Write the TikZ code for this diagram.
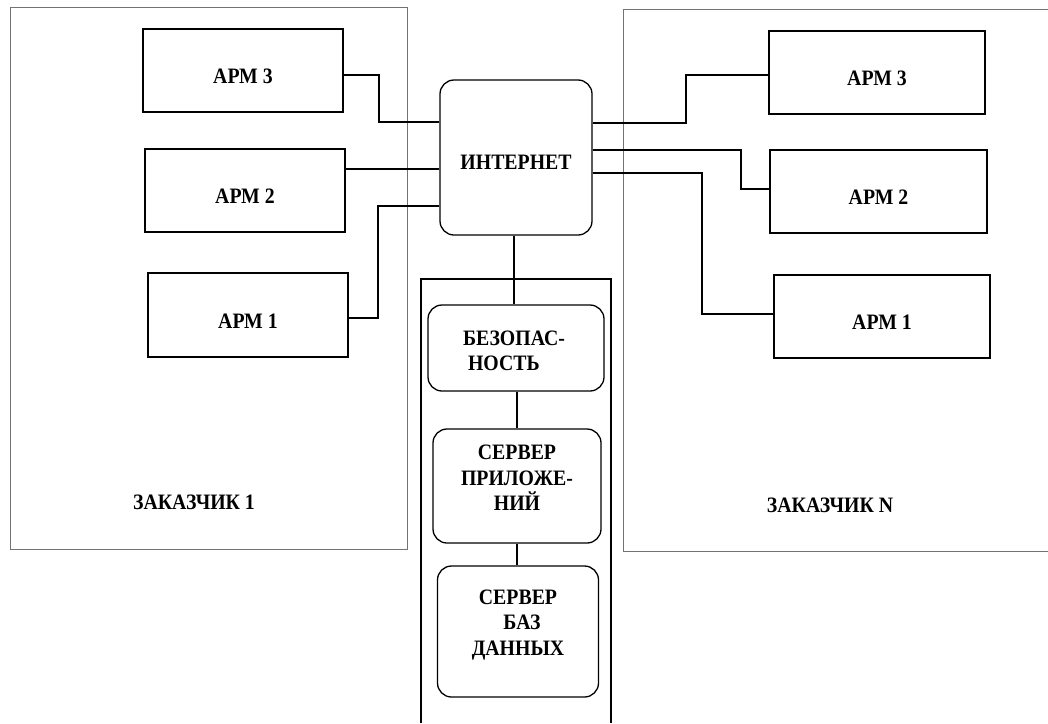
\documentclass[tikz,border=0pt]{standalone}
\usepackage{fontspec}
\setmainfont{Liberation Serif}[FakeStretch=0.9]
\begin{document}
\begin{tikzpicture}[x=1pt,y=-1pt,
  cust/.style={draw=black!55,line width=1pt},
  apm/.style={draw=black,line width=1.5pt,font=\fontsize{22}{25.5}\selectfont\bfseries,
    text height=26pt,text depth=0pt,inner sep=0pt},
  rbox/.style={draw=black,line width=1.3pt,rounded corners=14pt,inner sep=0pt,
    font=\fontsize{22}{25.5}\selectfont\bfseries},
  wire/.style={draw=black,line width=1.3pt},
  lbl/.style={font=\fontsize{22}{25.5}\selectfont\bfseries,inner sep=0pt}]
\useasboundingbox (0,0) rectangle (1048,723);
% customer areas
\draw[cust] (10,7) rectangle (407,549);
\draw[cust] (1048,9) -- (623,9) -- (623,551) -- (1048,551);
% central column
\draw[line width=1.5pt] (421,723) -- (421,279) -- (611,279) -- (611,723);
% left APMs
\node[apm,minimum width=200pt,minimum height=83pt] (l3) at (243,70.5) {АРМ 3};
\node[apm,minimum width=200pt,minimum height=83pt] (l2) at (245,190.5) {АРМ 2};
\node[apm,minimum width=200pt,minimum height=84pt] (l1) at (248,315) {АРМ 1};
% right APMs
\node[apm,minimum width=216pt,minimum height=83pt] (r3) at (877,72.5) {АРМ 3};
\node[apm,minimum width=217pt,minimum height=83pt] (r2) at (878.5,191.5) {АРМ 2};
\node[apm,minimum width=216pt,minimum height=83pt] (r1) at (882,316.5) {АРМ 1};
% internet and servers
\node[rbox,minimum width=152pt,minimum height=155pt] (inet) at (516,157.5)
  {\raisebox{-5pt}[\height][\depth]{ИНТЕРНЕТ}};
\node[rbox,minimum width=176pt,minimum height=86pt,align=left] (sec) at (516,348)
  {\raisebox{-3pt}[\height][\depth]{\parbox{106pt}{\raggedright БЕЗОПАС-\\\hspace*{5pt}НОСТЬ}}};
\node[rbox,minimum width=168pt,minimum height=114pt,align=center] (app) at (517,486)
  {\raisebox{8pt}[\height][\depth]{\parbox{130pt}{\centering СЕРВЕР\\ПРИЛОЖЕ-\\НИЙ}}};
\node[rbox,minimum width=161pt,minimum height=131pt,align=center] (db) at (518,631.5)
  {\raisebox{6.5pt}[\height][\depth]{\parbox{130pt}{\centering СЕРВЕР\\\hspace*{8pt}БАЗ\\ДАННЫХ}}};
% customer labels
\node[lbl] (c1) at (194,502) {ЗАКАЗЧИК 1};
\node[lbl] (cn) at (830,505) {ЗАКАЗЧИК N};
% bend points
\coordinate (a3) at (379,122);
\coordinate (a1) at (378,206);
\coordinate (b3) at (686,75);
\coordinate (b2) at (741,189);
\coordinate (b1) at (702,314);
% left wires
\draw[wire] ([yshift=-4.5pt]l3.east) -| (a3) -- (a3 -| inet.west);
\draw[wire] ([yshift=21.5pt]l2.east) -- ([yshift=21.5pt]l2.east -| inet.west);
\draw[wire] ([yshift=-3pt]l1.east) -| (a1) -- (a1 -| inet.west);
% right wires
\draw[wire] ([yshift=34.5pt]inet.east) -| (b3) -- (b3 -| r3.west);
\draw[wire] ([yshift=7.5pt]inet.east) -| (b2) -- (b2 -| r2.west);
\draw[wire] ([yshift=-15.5pt]inet.east) -| (b1) -- (b1 -| r1.west);
% vertical chain
\draw[wire] ([xshift=-2pt]inet.south) -- ([xshift=-2pt]inet.south |- sec.north);
\draw[wire] ([xshift=1pt]sec.south) -- ([xshift=1pt]sec.south |- app.north);
\draw[wire] (app.south) -- (app.south |- db.north);
\end{tikzpicture}
\end{document}
